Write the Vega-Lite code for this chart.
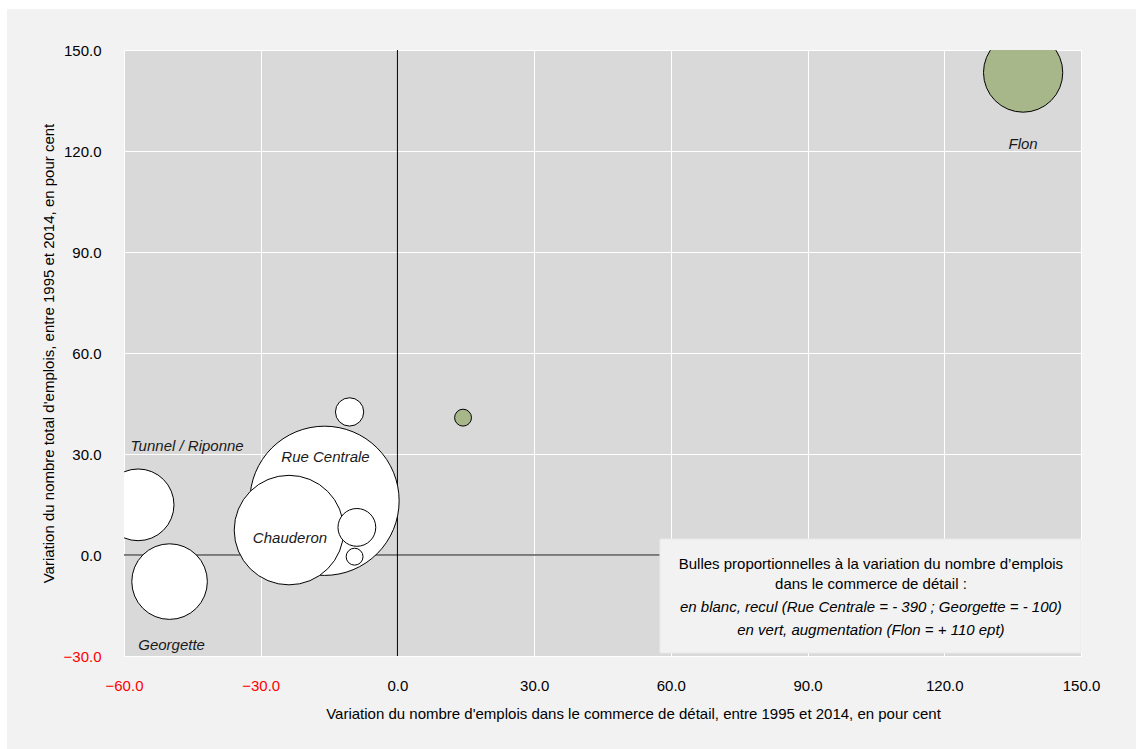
{
  "$schema": "https://vega.github.io/schema/vega-lite/v6.json",
  "autosize": "none",
  "width": 957,
  "height": 606,
  "padding": {"left": 124, "top": 50, "right": 55, "bottom": 93},
  "background": "#f2f2f2",
  "config": {
    "font": "Liberation Sans",
    "view": {"fill": "#d9d9d9", "stroke": null},
    "axis": {
      "grid": true,
      "gridColor": "#ffffff",
      "gridWidth": 1,
      "domain": false,
      "ticks": false,
      "labelFontSize": 15,
      "labelFont": "Liberation Sans",
      "labelOverlap": false,
      "labelFlush": false,
      "titleFontSize": 15,
      "titleFont": "Liberation Sans",
      "titleFontWeight": "normal",
      "titleColor": "#000000",
      "labelColor": {"condition": {"test": "datum.value < 0", "value": "#ff0000"}, "value": "#000000"}
    }
  },
  "datasets": {
    "quartiers": [
      {"quartier": "Rue Centrale", "var_commerce": -16.0, "var_total": 16.1, "emplois": 390, "sens": "recul"},
      {"quartier": "Chauderon", "var_commerce": -23.8, "var_total": 7.4, "emplois": 210, "sens": "recul"},
      {"quartier": "Tunnel / Riponne", "var_commerce": -56.9, "var_total": 14.9, "emplois": 90, "sens": "recul"},
      {"quartier": "Georgette", "var_commerce": -50.0, "var_total": -7.9, "emplois": 100, "sens": "recul"},
      {"quartier": "", "var_commerce": -10.5, "var_total": 42.5, "emplois": 14, "sens": "recul"},
      {"quartier": "", "var_commerce": -8.9, "var_total": 8.2, "emplois": 25, "sens": "recul"},
      {"quartier": "", "var_commerce": -9.4, "var_total": -0.5, "emplois": 5, "sens": "recul"},
      {"quartier": "", "var_commerce": 14.4, "var_total": 40.8, "emplois": 5, "sens": "augmentation"},
      {"quartier": "Flon", "var_commerce": 137.3, "var_total": 143.3, "emplois": 110, "sens": "augmentation"}
    ],
    "axes_zero": [{"zero": 0}],
    "note": [{"ligne": 1}]
  },
  "layer": [
    {
      "data": {"name": "note"},
      "mark": {"type": "rect", "fill": "#ffffff", "clip": false},
      "encoding": {
        "x": {"datum": -95, "type": "quantitative"},
        "x2": {"datum": -85.67},
        "y": {"datum": 175, "type": "quantitative"},
        "y2": {"datum": -70}
      }
    },
    {
      "data": {"name": "note"},
      "mark": {"type": "rect", "fill": "#ffffff", "clip": false},
      "encoding": {
        "x": {"datum": -95, "type": "quantitative"},
        "x2": {"datum": 170},
        "y": {"datum": 175, "type": "quantitative"},
        "y2": {"datum": 162.18}
      }
    },
    {
      "data": {"name": "axes_zero"},
      "mark": {"type": "rule", "color": "#595959", "strokeWidth": 1.5},
      "encoding": {
        "y": {"field": "zero", "type": "quantitative", "scale": {"domain": [-30, 150], "nice": false, "zero": false}}
      }
    },
    {
      "data": {"name": "axes_zero"},
      "mark": {"type": "rule", "color": "#000000", "strokeWidth": 1},
      "encoding": {
        "x": {"field": "zero", "type": "quantitative", "scale": {"domain": [-60, 150], "nice": false, "zero": false}}
      }
    },
    {
      "data": {"name": "quartiers"},
      "encoding": {
        "x": {
          "field": "var_commerce", "type": "quantitative",
          "scale": {"domain": [-60, 150], "nice": false, "zero": false},
          "axis": {
            "values": [-60, -30, 0, 30, 60, 90, 120, 150],
            "format": ".1f",
            "labelPadding": 22,
            "title": "Variation du nombre d'emplois dans le commerce de détail, entre 1995 et 2014, en pour cent",
            "titlePadding": 13,
            "titleX": 509
          }
        },
        "y": {
          "field": "var_total", "type": "quantitative",
          "scale": {"domain": [-30, 150], "nice": false, "zero": false},
          "axis": {
            "values": [-30, 0, 30, 60, 90, 120, 150],
            "format": ".1f",
            "labelPadding": 23,
            "title": "Variation du nombre total d'emplois, entre 1995 et 2014, en pour cent",
            "titlePadding": 7
          }
        }
      },
      "layer": [
        {
          "mark": {"type": "point", "shape": "circle", "filled": true, "stroke": "#000000", "strokeWidth": 1, "opacity": 1, "clip": true},
          "encoding": {
            "size": {"field": "emplois", "type": "quantitative", "scale": {"domain": [0, 390], "range": [0, 22273], "zero": true}, "legend": null},
            "color": {"field": "sens", "type": "nominal", "scale": {"domain": ["recul", "augmentation"], "range": ["#ffffff", "#a8b78a"]}, "legend": null}
          }
        },
        {
          "transform": [{"filter": "datum.quartier === 'Flon'"}],
          "mark": {"type": "text", "fontStyle": "italic", "fontSize": 15, "color": "#1a1a1a", "dy": 71, "baseline": "middle"},
          "encoding": {"text": {"field": "quartier"}}
        },
        {
          "transform": [{"filter": "datum.quartier === 'Tunnel / Riponne'"}],
          "mark": {"type": "text", "fontStyle": "italic", "fontSize": 15, "color": "#1a1a1a", "dx": 49, "dy": -59, "baseline": "middle"},
          "encoding": {"text": {"field": "quartier"}}
        },
        {
          "transform": [{"filter": "datum.quartier === 'Rue Centrale'"}],
          "mark": {"type": "text", "fontStyle": "italic", "fontSize": 15, "color": "#1a1a1a", "dx": 1, "dy": -44, "baseline": "middle"},
          "encoding": {"text": {"field": "quartier"}}
        },
        {
          "transform": [{"filter": "datum.quartier === 'Chauderon'"}],
          "mark": {"type": "text", "fontStyle": "italic", "fontSize": 15, "color": "#1a1a1a", "dx": 1, "dy": 8, "baseline": "middle"},
          "encoding": {"text": {"field": "quartier"}}
        },
        {
          "transform": [{"filter": "datum.quartier === 'Georgette'"}],
          "mark": {"type": "text", "fontStyle": "italic", "fontSize": 15, "color": "#1a1a1a", "dx": 2, "dy": 63, "baseline": "middle"},
          "encoding": {"text": {"field": "quartier"}}
        }
      ]
    },
    {
      "data": {"name": "note"},
      "mark": {"type": "rect", "fill": "#f2f2f2", "stroke": "#e8e8e8", "strokeWidth": 1},
      "encoding": {
        "x": {"datum": 57.6, "type": "quantitative"},
        "x2": {"datum": 150},
        "y": {"datum": 4.75, "type": "quantitative"},
        "y2": {"datum": -29.1}
      }
    },
    {
      "data": {"name": "note"},
      "mark": {"type": "text", "fontSize": 15, "color": "#000000", "baseline": "middle", "lineHeight": 20},
      "encoding": {
        "x": {"datum": 103.9, "type": "quantitative"},
        "y": {"datum": -2.6, "type": "quantitative"},
        "text": {"value": ["Bulles proportionnelles à la variation du nombre d’emplois", "dans le commerce de détail :"]}
      }
    },
    {
      "data": {"name": "note"},
      "mark": {"type": "text", "fontSize": 15, "fontStyle": "italic", "color": "#000000", "baseline": "middle", "lineHeight": 23},
      "encoding": {
        "x": {"datum": 103.9, "type": "quantitative"},
        "y": {"datum": -15.5, "type": "quantitative"},
        "text": {"value": ["en blanc, recul (Rue Centrale = - 390 ; Georgette = - 100)", "en vert, augmentation (Flon = + 110 ept)"]}
      }
    }
  ]
}
